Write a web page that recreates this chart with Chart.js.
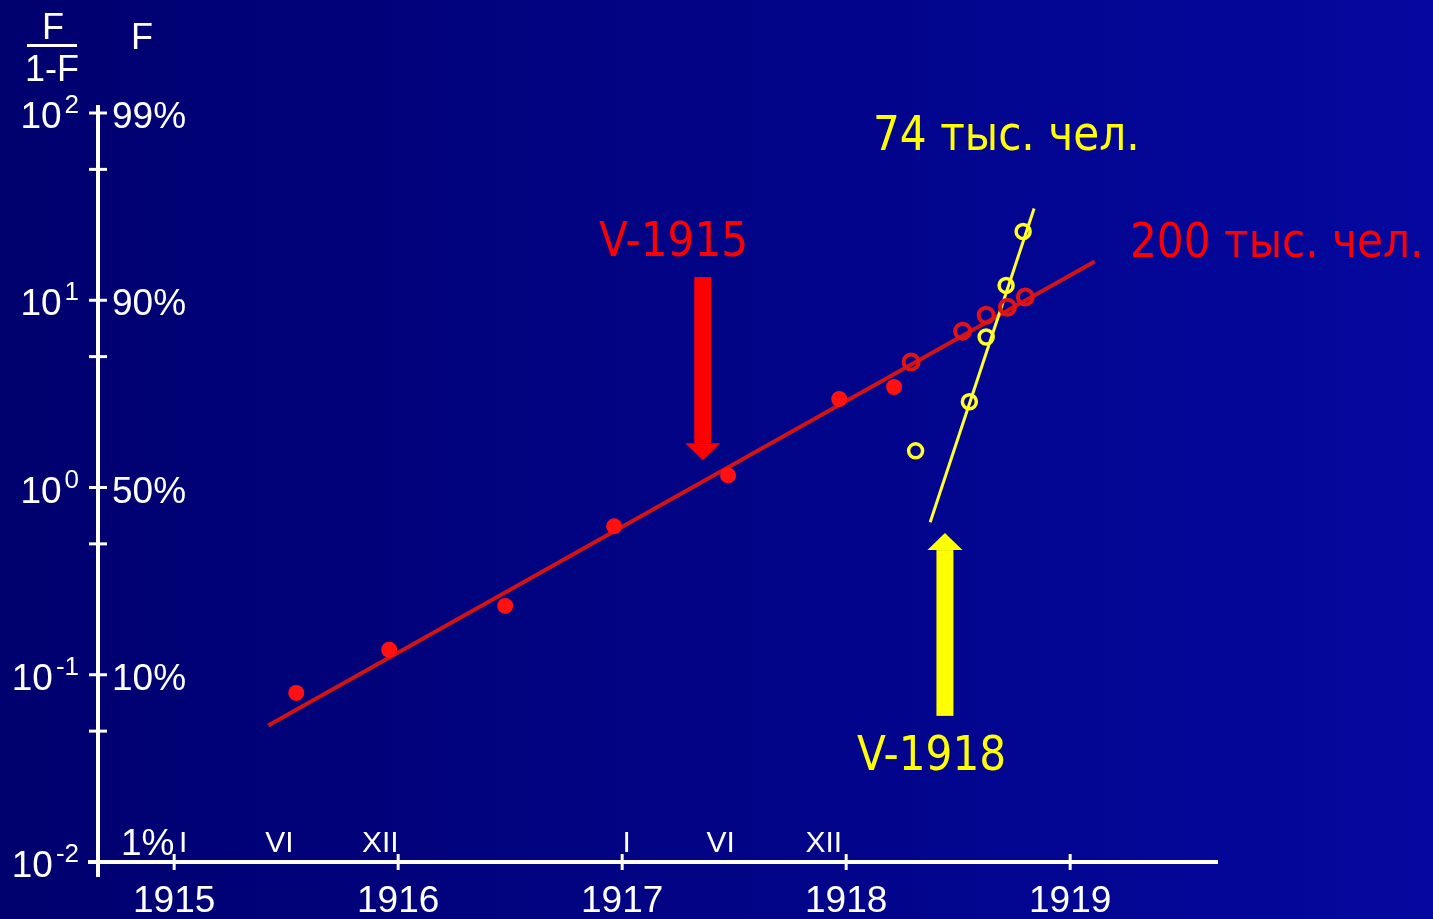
<!DOCTYPE html>
<html lang="ru">
<head>
<meta charset="UTF-8">
<title>F/(1-F)</title>
<script src="https://cdn.jsdelivr.net/npm/chart.js"></script>
<style>
    body {
        margin: 0;
        padding: 0;
        background: #000070;
    }
    canvas {
        display: block;
    }
</style>
</head>
<body>
<canvas id="myChart" width="1433" height="919"></canvas>
<script>
    // axis ticks and labels
    const years = [1915, 1916, 1917, 1918, 1919];
    const yearLabels = ['1915', '1916', '1917', '1918', '1919'];
    const monthPos = [1915.04, 1915.47, 1915.92, 1917.02, 1917.44, 1917.90];
    const monthLabels = ['I', 'VI', 'XII', 'I', 'VI', 'XII'];
    const decades = [100, 10, 1, 0.1, 0.01];
    const decadeExp = ['2', '1', '0', '-1', '-2'];
    const pctLabels = ['99%', '90%', '50%', '10%', '1%'];
    const minorTicks = [50, 5, 0.5, 0.05];

    // V-1915 points (filled, then open)
    const redFilledX = [1915.545, 1915.96, 1916.478, 1916.964, 1917.473, 1917.969, 1918.214];
    const redFilledY = [0.080, 0.136, 0.233, 0.62, 1.16, 2.97, 3.44];
    const redOpenX = [1918.29, 1918.52, 1918.625, 1918.72, 1918.80];
    const redOpenY = [4.68, 6.84, 8.32, 9.18, 10.4];
    // V-1918 points
    const yellowX = [1918.31, 1918.55, 1918.625, 1918.714, 1918.79];
    const yellowY = [1.57, 2.87, 6.36, 12.0, 23.3];
    // fitted lines
    const redFitX = [1915.42, 1919.11];
    const redFitY = [0.0536, 16.1];
    const yellowFitX = [1918.375, 1918.839];
    const yellowFitY = [0.652, 30.9];
    // arrows (x, y from, y to = tip)
    const redArrow = [1917.36, 13.3, 1.40];
    const yellowArrow = [1918.441, 0.0603, 0.571];

    function pts(xs, ys) {
        return xs.map((x, i) => ({ x: x, y: ys[i] }));
    }

    const bgPlugin = {
        id: 'bg',
        beforeDraw(chart) {
            const c = chart.ctx;
            const g = c.createLinearGradient(0, 0, chart.width, 0);
            g.addColorStop(0, '#00006e');
            g.addColorStop(1, '#04089e');
            c.save();
            c.fillStyle = g;
            c.fillRect(0, 0, chart.width, chart.height);
            c.restore();
        }
    };

    function arrow(c, x, y0, y1, color) {
        // shaft from y0 to head, tip at y1
        const dir = y1 > y0 ? 1 : -1;
        const headH = 17;
        c.fillStyle = color;
        c.fillRect(x - 8.5, Math.min(y0, y1 - dir * headH), 17, Math.abs(y1 - dir * headH - y0));
        c.beginPath();
        c.moveTo(x - 17.5, y1 - dir * headH);
        c.lineTo(x + 17.5, y1 - dir * headH);
        c.lineTo(x, y1);
        c.closePath();
        c.fill();
    }

    // narrower text, a bit like Tahoma
    function label(c, text, x, y) {
        c.save();
        c.translate(x, y);
        c.scale(0.88, 1);
        c.fillText(text, 0, 0);
        c.restore();
    }

    const axesPlugin = {
        id: 'axes',
        beforeDatasetsDraw(chart) {
            const c = chart.ctx;
            const xs = chart.scales.x;
            const ys = chart.scales.y;
            const x0 = xs.left;
            const y0 = ys.bottom;
            c.save();
            c.strokeStyle = 'white';
            c.fillStyle = 'white';
            c.lineWidth = 4;
            // y axis
            c.beginPath();
            c.moveTo(x0, ys.top - 8);
            c.lineTo(x0, y0 + 15);
            c.stroke();
            // x axis
            c.beginPath();
            c.moveTo(x0 - 10, y0);
            c.lineTo(xs.right, y0);
            c.stroke();
            c.lineWidth = 3;
            decades.concat(minorTicks).forEach(v => {
                const py = ys.getPixelForValue(v);
                c.beginPath();
                c.moveTo(x0 - 9, py);
                c.lineTo(x0 + 9, py);
                c.stroke();
            });
            years.forEach(v => {
                const px = xs.getPixelForValue(v);
                c.beginPath();
                c.moveTo(px, y0 - 8);
                c.lineTo(px, y0 + 8);
                c.stroke();
            });

            // y labels
            c.textBaseline = 'alphabetic';
            decades.forEach((v, i) => {
                const py = ys.getPixelForValue(v);
                c.font = '26px "Liberation Sans", Arial, sans-serif';
                c.textAlign = 'right';
                c.fillText(decadeExp[i], 79, py);
                const w = c.measureText(decadeExp[i]).width;
                c.font = '37px "Liberation Sans", Arial, sans-serif';
                c.fillText('10', 79 - w - 3, py + 15);
                c.textAlign = 'left';
                if (v === 0.01) {
                    c.fillText(pctLabels[i], x0 + 23, py - 7);
                } else {
                    c.fillText(pctLabels[i], x0 + 14, py + 15);
                }
            });
            // year labels
            c.font = '37px "Liberation Sans", Arial, sans-serif';
            c.textAlign = 'center';
            years.forEach((v, i) => {
                c.fillText(yearLabels[i], xs.getPixelForValue(v), y0 + 50);
            });
            // month labels
            c.font = '30px "Liberation Sans", Arial, sans-serif';
            monthPos.forEach((v, i) => {
                c.fillText(monthLabels[i], xs.getPixelForValue(v), y0 - 10);
            });

            // axis headers
            c.font = '36px "Liberation Sans", Arial, sans-serif';
            c.fillText('F', 53, 39);
            c.fillText('1-F', 52, 81);
            c.fillRect(27, 44, 50, 3);
            c.fillText('F', 142, 49);
            c.restore();
        },
        afterDatasetsDraw(chart) {
            const c = chart.ctx;
            const xs = chart.scales.x;
            const ys = chart.scales.y;
            c.save();
            arrow(c, xs.getPixelForValue(redArrow[0]), ys.getPixelForValue(redArrow[1]), ys.getPixelForValue(redArrow[2]), '#ff0000');
            arrow(c, xs.getPixelForValue(yellowArrow[0]), ys.getPixelForValue(yellowArrow[1]), ys.getPixelForValue(yellowArrow[2]), '#ffff00');

            c.font = '48px "DejaVu Sans", Verdana, sans-serif';
            c.textAlign = 'left';
            c.fillStyle = '#ff0000';
            label(c, 'V-1915', 599, 256);
            label(c, '200 тыс. чел.', 1130, 257);
            c.fillStyle = '#ffff00';
            label(c, '74 тыс. чел.', 873, 150);
            label(c, 'V-1918', 857, 770);
            c.restore();
        }
    };

    const ctx = document.getElementById('myChart').getContext('2d');
    const myChart = new Chart(ctx, {
        type: 'scatter',
        data: {
            datasets: [
                {
                    label: 'V-1915 fit',
                    data: pts(redFitX, redFitY),
                    showLine: true,
                    borderColor: '#d01414',
                    borderWidth: 4,
                    pointRadius: 0,
                    order: 5
                },
                {
                    label: 'V-1918 fit',
                    data: pts(yellowFitX, yellowFitY),
                    showLine: true,
                    borderColor: '#ffff33',
                    borderWidth: 3,
                    pointRadius: 0,
                    order: 4
                },
                {
                    label: 'V-1915',
                    data: pts(redFilledX, redFilledY),
                    backgroundColor: '#ff1111',
                    borderColor: '#ff1111',
                    pointRadius: 8,
                    borderWidth: 0,
                    order: 3
                },
                {
                    label: 'V-1918',
                    data: pts(yellowX, yellowY),
                    backgroundColor: 'rgba(0,0,0,0)',
                    borderColor: '#ffff22',
                    pointRadius: 7,
                    borderWidth: 3.5,
                    order: 2
                },
                {
                    label: 'V-1915 late',
                    data: pts(redOpenX, redOpenY),
                    backgroundColor: 'rgba(0,0,0,0)',
                    borderColor: '#e01414',
                    pointRadius: 7.5,
                    borderWidth: 4,
                    order: 1
                }
            ]
        },
        options: {
            responsive: false,
            animation: false,
            devicePixelRatio: 1,
            layout: {
                padding: { left: 98, right: 215, top: 113, bottom: 57 }
            },
            plugins: {
                legend: { display: false },
                tooltip: { enabled: false }
            },
            scales: {
                x: {
                    type: 'linear',
                    min: 1914.66,
                    max: 1919.66,
                    display: false
                },
                y: {
                    type: 'logarithmic',
                    min: 0.01,
                    max: 100,
                    display: false
                }
            }
        },
        plugins: [bgPlugin, axesPlugin]
    });
</script>
</body>
</html>
